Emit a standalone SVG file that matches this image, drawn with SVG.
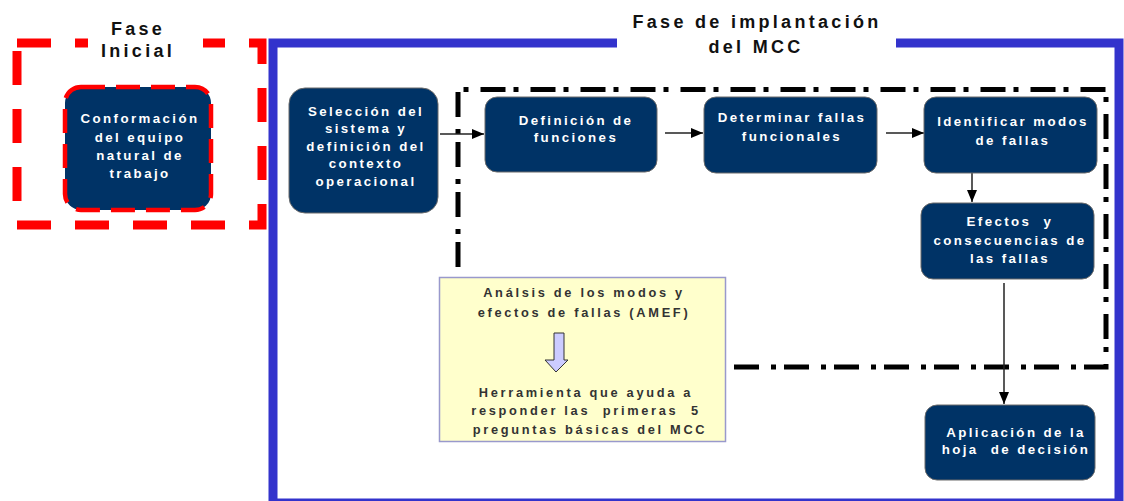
<svg xmlns="http://www.w3.org/2000/svg" width="1124" height="501" viewBox="0 0 1124 501">
  <defs>
    <style>
      text { white-space: pre; }
      .node { fill: #003366; stroke: #6b6b6b; stroke-width: 1; }
      .nt { font-family: "Liberation Sans", Arial, sans-serif; font-weight: bold; font-size: 13.3px; letter-spacing: 2.4px; fill: #ffffff; text-anchor: middle; }
      .at { font-family: "Liberation Sans", Arial, sans-serif; font-weight: bold; font-size: 12.8px; letter-spacing: 2.7px; fill: #333333; text-anchor: middle; }
      .title { font-family: "Liberation Sans", Arial, sans-serif; font-weight: bold; font-size: 18px; letter-spacing: 3.3px; fill: #111111; text-anchor: middle; }
      .conn { stroke: #222222; stroke-width: 1.5; fill: none; marker-end: url(#ah); }
    </style>
    <marker id="ah" viewBox="0 0 12 10" refX="12" refY="5" markerWidth="12" markerHeight="10" markerUnits="userSpaceOnUse" orient="auto">
      <path d="M0,0 L12,5 L0,10 Z" fill="#000000"/>
    </marker>
  </defs>
  <rect width="1124" height="501" fill="#ffffff"/>

  <!-- Blue frame: Fase de implantación -->
  <g id="fase-implantacion">
    <rect x="273" y="43" width="846" height="460" fill="none" stroke="#3333cc" stroke-width="9"/>
    <rect x="617" y="34" width="279" height="20" fill="#ffffff"/>
    <text class="title" x="757" y="28">Fase de implantación</text>
    <text class="title" x="756" y="53">del MCC</text>
  </g>

  <!-- Red dashed frame: Fase Inicial -->
  <g id="fase-inicial">
    <path d="M17,43 H262 V225 H17 Z" fill="none" stroke="#ff0000" stroke-width="9" stroke-dasharray="34 24"/>
    <rect x="88" y="34" width="115" height="20" fill="#ffffff"/>
    <text class="title" x="138" y="35">Fase</text>
    <text class="title" x="138" y="57">Inicial</text>
  </g>

  <!-- Dash-dot frame (AMEF scope) -->
  <g id="amef-scope">
    <path d="M458,367 V89.5 H1106 V367 Z" fill="none" stroke="#000000" stroke-width="5" stroke-dasharray="25 8 5 12"/>
  </g>

  <!-- Connectors -->
  <g id="connectors">
    <line class="conn" x1="440" y1="134" x2="484" y2="134"/>
    <line class="conn" x1="665" y1="133" x2="703" y2="133"/>
    <line class="conn" x1="886" y1="133" x2="924" y2="133"/>
    <line class="conn" x1="972" y1="173" x2="972" y2="202"/>
    <line class="conn" x1="1004" y1="283" x2="1004" y2="404"/>
  </g>

  <g id="n-conformacion">
    <rect x="65" y="87" width="146" height="123" rx="16" fill="#003366" stroke="#ff0000" stroke-width="4.5" stroke-dasharray="24 11"/>
    <text class="nt" x="140" y="123">Conformación</text>
    <text class="nt" x="140" y="142">del equipo</text>
    <text class="nt" x="140" y="160">natural de</text>
    <text class="nt" x="140" y="178">trabajo</text>
  </g>

  <g id="n-seleccion">
    <rect class="node" x="289" y="88" width="149" height="125" rx="16"/>
    <text class="nt" x="366" y="116">Selección del</text>
    <text class="nt" x="366" y="133">sistema y</text>
    <text class="nt" x="366" y="151">definición del</text>
    <text class="nt" x="366" y="168">contexto</text>
    <text class="nt" x="366" y="186">operacional</text>
  </g>

  <g id="n-definicion">
    <rect class="node" x="485" y="97" width="172" height="75" rx="12"/>
    <text class="nt" x="576" y="125">Definición de</text>
    <text class="nt" x="576" y="142">funciones</text>
  </g>

  <g id="n-determinar">
    <rect class="node" x="704" y="97" width="173" height="76" rx="12"/>
    <text class="nt" x="792" y="122">Determinar fallas</text>
    <text class="nt" x="792" y="141">funcionales</text>
  </g>

  <g id="n-identificar">
    <rect class="node" x="924" y="97" width="173" height="76" rx="12"/>
    <text class="nt" x="1013" y="126">Identificar modos</text>
    <text class="nt" x="1013" y="145">de fallas</text>
  </g>

  <g id="n-efectos">
    <rect class="node" x="921" y="203" width="173" height="76" rx="12"/>
    <text class="nt" x="1010" y="226">Efectos  y</text>
    <text class="nt" x="1010" y="245">consecuencias de</text>
    <text class="nt" x="1010" y="263">las fallas</text>
  </g>

  <g id="n-aplicacion">
    <rect class="node" x="925" y="405" width="170" height="75" rx="12"/>
    <text class="nt" x="1016" y="437">Aplicación de la</text>
    <text class="nt" x="1016" y="454">hoja  de decisión</text>
  </g>

  <g id="n-amef">
    <rect x="439.5" y="277.5" width="286" height="164" fill="#ffffcc" stroke="#9999cc" stroke-width="1.5"/>
    <text class="at" x="584" y="297">Análsis de los modos y</text>
    <text class="at" x="584" y="317">efectos de fallas (AMEF)</text>
    <path d="M554,333 H564 V360 H568 L556,372 L545,360 H554 Z" fill="#ccccff" stroke="#333333" stroke-width="1"/>
    <text class="at" x="586" y="397">Herramienta que ayuda a</text>
    <text class="at" x="586" y="415">responder las  primeras  5</text>
    <text class="at" x="590" y="434">preguntas básicas del MCC</text>
  </g>
</svg>
